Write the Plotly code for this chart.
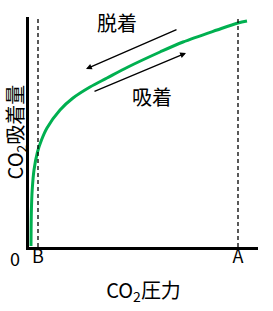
import plotly.graph_objects as go

# Isotherm curve (x: CO2 pressure, y: CO2 adsorbed amount), arbitrary units
curve_x = [2, 2.1, 2.4, 3.2, 5, 8.5, 12.5, 18, 31, 44, 61, 78, 99, 131, 154, 188, 209, 218]
curve_y = [1, 17, 37, 57, 77, 95, 107, 119, 137, 149, 160, 169, 180, 195, 205, 217, 224, 226]

# Marked pressures
mark_names = ["B", "A"]
mark_x = [9, 209]
mark_top = [230, 232]

# Arrows: tail_x, tail_y, head_x, head_y
desorb_arrow = [149, 218, 57, 178]
adsorb_arrow = [64, 155, 157, 194]
arrow_labels = ["脱着", "吸着"]
label_pos_x = [88, 123]
label_pos_y = [225, 151]

FONT = "Noto Sans CJK JP"

fig = go.Figure()
fig.add_trace(go.Scatter(x=curve_x, y=curve_y, mode="lines",
                         line=dict(color="#00B050", width=3, shape="spline", smoothing=0.9),
                         hoverinfo="skip"))

for mx, mt in zip(mark_x, mark_top):
    fig.add_shape(type="line", x0=mx, x1=mx, y0=0, y1=mt, xref="x", yref="y",
                  line=dict(color="black", width=1.3, dash="4px,3px"))

for arr in (desorb_arrow, adsorb_arrow):
    tx, ty, hx, hy = arr
    fig.add_annotation(x=hx, y=hy, ax=tx, ay=ty, xref="x", yref="y", axref="x", ayref="y",
                       showarrow=True, arrowhead=2, arrowsize=0.9, arrowwidth=1.3,
                       arrowcolor="black", text="")

for t, lx, ly in zip(arrow_labels, label_pos_x, label_pos_y):
    fig.add_annotation(x=lx, y=ly, xref="x", yref="y", text=t, showarrow=False,
                       font=dict(family=FONT, size=20, color="black"))

fig.add_annotation(x=-0.061, y=-0.047, xref="paper", yref="paper", text="0",
                   xanchor="center", yanchor="middle",
                   showarrow=False, font=dict(family=FONT, size=18, color="black"))

fig.update_layout(
    width=273, height=311,
    margin=dict(l=29, r=15, t=17, b=64),
    paper_bgcolor="white", plot_bgcolor="white",
    showlegend=False,
    xaxis=dict(range=[0, 229], showline=True, linecolor="black", linewidth=2.5,
               showgrid=False, zeroline=False, tickvals=mark_x, ticktext=mark_names,
               ticks="", ticklabelstandoff=-8,
               tickfont=dict(family=FONT, size=18, color="black"),
               title=dict(text="CO<sub>2</sub>圧力", font=dict(family=FONT, size=20, color="black"),
                          standoff=17),
               fixedrange=True),
    yaxis=dict(range=[0, 230], showline=True, linecolor="black", linewidth=2.5,
               showgrid=False, zeroline=False, showticklabels=False, ticks="",
               title=dict(text="CO<sub>2</sub>吸着量", font=dict(family=FONT, size=20, color="black"),
                          standoff=4),
               automargin=False, fixedrange=True),
)

fig.write_html("out.html", config={"displayModeBar": False})
